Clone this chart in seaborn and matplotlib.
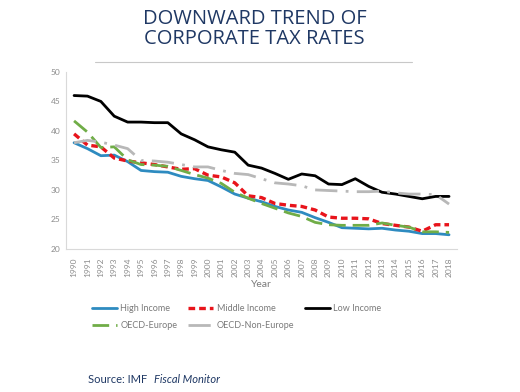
import numpy as np
import matplotlib.pyplot as plt
import pandas as pd
import seaborn as sns

# data
years = list(range(1990, 2019))
high_income = [38.0, 37.0, 35.8, 35.9, 34.8, 33.3, 33.1, 33.0, 32.3, 31.9,
               31.6, 30.5, 29.3, 28.6, 28.0, 27.2, 26.6, 26.2, 25.3, 24.5,
               23.6, 23.5, 23.4, 23.5, 23.2, 23.0, 22.6, 22.6, 22.4]
middle_income = [39.5, 37.6, 37.3, 35.4, 34.9, 34.6, 34.3, 33.9, 33.5, 33.6,
                 32.5, 32.2, 31.2, 29.0, 28.7, 27.7, 27.4, 27.2, 26.6, 25.4,
                 25.2, 25.2, 25.1, 24.3, 24.0, 23.7, 23.0, 24.1, 24.1]
low_income = [46.0, 45.9, 45.0, 42.5, 41.5, 41.5, 41.4, 41.4, 39.5, 38.5,
              37.3, 36.8, 36.4, 34.2, 33.7, 32.8, 31.8, 32.7, 32.4, 31.0,
              30.9, 31.9, 30.6, 29.6, 29.3, 28.9, 28.5, 28.9, 28.9]
oecd_europe = [41.7, 39.8, 37.2, 37.3, 35.1, 34.3, 34.2, 34.0, 33.3, 32.6,
               32.0, 31.1, 29.6, 28.6, 27.7, 26.9, 26.1, 25.5, 24.5, 24.1,
               24.0, 24.0, 24.0, 24.4, 24.0, 23.7, 22.9, 22.9, 22.8]
oecd_non_europe = [38.0, 38.4, 38.1, 37.6, 37.0, 35.0, 34.9, 34.7, 34.3, 33.9,
                   33.9, 33.3, 32.8, 32.6, 31.9, 31.2, 31.0, 30.7, 30.0, 29.9,
                   29.8, 29.7, 29.7, 29.8, 29.5, 29.3, 29.3, 29.2, 27.6]

series = {
    "High Income": high_income,
    "Middle Income": middle_income,
    "Low Income": low_income,
    "OECD-Europe": oecd_europe,
    "OECD-Non-Europe": oecd_non_europe,
}

# line look per series
line_style = {
    "High Income": ("#2e8bc0", (None, None), 2.0),
    "Middle Income": ("#e8141b", (2, 1.2), 2.4),
    "Low Income": ("#000000", (None, None), 2.0),
    "OECD-Europe": ("#70ad47", (6, 2.5), 2.0),
    "OECD-Non-Europe": ("#b8b8b8", (8, 3, 1, 3), 2.0),
}

df = pd.DataFrame([(y, name, v) for name, vals in series.items()
                   for y, v in zip(years, vals)],
                  columns=["Year", "Group", "Rate"])

sns.set_style("white")
plt.rcParams['font.family'] = ['Lato', 'DejaVu Sans']

fig = plt.figure(figsize=(5.2, 3.92), dpi=100)
ax = fig.add_axes([0.127, 0.365, 0.752, 0.4515])

handles = {}
for name in series:
    color, dash, lw = line_style[name]
    sub = df[df["Group"] == name]
    sns.lineplot(data=sub, x="Year", y="Rate", ax=ax, color=color,
                 linewidth=lw, label=name, legend=False)
    ln = ax.lines[-1]
    if dash[0] is not None:
        ln.set_dashes(dash)
    handles[name] = ln

ax.set_ylim(20, 50)
ax.set_xlim(1989.4, 2018.6)
ax.set_yticks(range(20, 51, 5))
ax.set_xticks(years)
ax.set_xticklabels([str(y) for y in years], rotation=90)
ax.tick_params(axis='both', labelsize=6, colors='#8c8c8c', length=0, pad=4)
ax.tick_params(axis='x', length=2, color='#d0d0d0', direction='out')
ax.set_xlabel("Year", fontsize=7.5, color='#7a7a7a', labelpad=2)
ax.set_ylabel("")
for s in ["top", "right"]:
    ax.spines[s].set_visible(False)
for s in ["left", "bottom"]:
    ax.spines[s].set_color('#d9d9d9')
    ax.spines[s].set_linewidth(0.8)

order = ["High Income", "OECD-Europe", "Middle Income", "OECD-Non-Europe", "Low Income"]
leg = fig.legend([handles[n] for n in order], order, ncol=3, frameon=False,
                 loc='upper left', bbox_to_anchor=(0.161, 0.245),
                 fontsize=6.5, handlelength=2.8, columnspacing=1.2,
                 handletextpad=0.35, labelspacing=0.85)
for t in leg.get_texts():
    t.set_color('#7a7a7a')

# title and rule
fig.text(0.49, 0.925, "DOWNWARD TREND OF\nCORPORATE TAX RATES", ha='center',
         va='center', fontsize=14.5, color='#1f3864', linespacing=1.0,
         family=['Open Sans', 'DejaVu Sans'])
fig.add_artist(plt.Line2D([0.183, 0.792], [0.842, 0.842], color='#c8c8c8', lw=0.8))

# source note
fig.text(0.17, 0.033, "Source: IMF ", fontsize=8, color='#1f3864', va='center')
fig.text(0.297, 0.033, "Fiscal Monitor", fontsize=8, color='#1f3864',
         va='center', style='italic')

fig.savefig("out.png", dpi=100)
